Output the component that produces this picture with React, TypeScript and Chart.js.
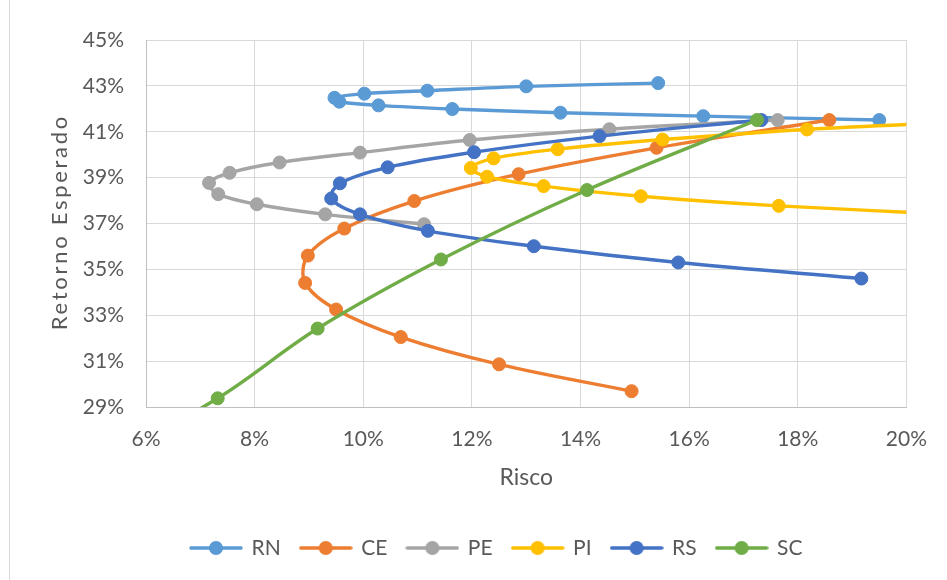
import React, { useEffect, useRef } from 'react';
import { Chart, registerables } from 'chart.js';

Chart.register(...registerables);

// ---- data (risk %, expected return %) ----
const seriesNames = ['RN', 'CE', 'PE', 'PI', 'RS', 'SC'];
const seriesColors = ['#5B9BD5', '#ED7D31', '#A5A5A5', '#FFC000', '#4472C4', '#70AD47'];

const rnRisk = [19.5, 16.26, 13.63, 11.64, 10.28, 9.56, 9.47, 10.02, 11.18, 13.0, 15.43];
const rnReturn = [41.51, 41.68, 41.83, 41.99, 42.15, 42.31, 42.48, 42.66, 42.79, 42.98, 43.12];

const ceRisk = [14.94, 12.5, 10.69, 9.5, 8.93, 8.98, 9.65, 10.94, 12.86, 15.4, 18.58];
const ceReturn = [29.69, 30.86, 32.05, 33.25, 34.41, 35.6, 36.78, 37.98, 39.15, 40.3, 41.51];

const peRisk = [11.12, 9.3, 8.04, 7.33, 7.16, 7.54, 8.46, 9.94, 11.96, 14.53, 17.63];
const peReturn = [36.97, 37.4, 37.84, 38.28, 38.77, 39.21, 39.66, 40.09, 40.64, 41.11, 41.51];

const piRisk = [21.3, 17.65, 15.11, 13.32, 12.28, 11.98, 12.4, 13.58, 15.51, 18.17, 22.0];
const piReturn = [37.35, 37.77, 38.19, 38.63, 39.04, 39.42, 39.84, 40.24, 40.66, 41.1, 41.52];

const rsRisk = [19.17, 15.8, 13.14, 11.19, 9.94, 9.41, 9.57, 10.45, 12.04, 14.35, 17.33];
const rsReturn = [34.6, 35.3, 36.01, 36.68, 37.4, 38.09, 38.75, 39.45, 40.11, 40.81, 41.51];

const scRisk = [5.0, 7.32, 9.16, 11.43, 14.12, 17.25];
const scReturn = [26.35, 29.38, 32.42, 35.43, 38.46, 41.51];

const xTickValues = [6, 8, 10, 12, 14, 16, 18, 20];
const yTickValues = [29, 31, 33, 35, 37, 39, 41, 43, 45];

const xTitle = 'Risco';
const yTitle = 'Retorno Esperado';

const riskLists = [rnRisk, ceRisk, peRisk, piRisk, rsRisk, scRisk];
const returnLists = [rnReturn, ceReturn, peReturn, piReturn, rsReturn, scReturn];

const TEXT = '#595959';
const FONT = 'Lato, "Open Sans", sans-serif';

function makeLegendImage(color: string): HTMLCanvasElement {
  const c = document.createElement('canvas');
  c.width = 54;
  c.height = 16;
  const g = c.getContext('2d')!;
  g.strokeStyle = color;
  g.lineWidth = 3.5;
  g.lineCap = 'round';
  g.beginPath();
  g.moveTo(2, 8);
  g.lineTo(52, 8);
  g.stroke();
  g.fillStyle = color;
  g.beginPath();
  g.arc(27, 8, 7, 0, Math.PI * 2);
  g.fill();
  return c;
}

export default function App() {
  const ref = useRef<HTMLCanvasElement | null>(null);

  useEffect(() => {
    if (!ref.current) return;
    const legendImgs = seriesColors.map(makeLegendImage);

    const datasets = seriesNames.map((name, i) => ({
      label: name,
      data: riskLists[i].map((x, k) => ({ x, y: returnLists[i][k] })),
      showLine: true,
      borderColor: seriesColors[i],
      backgroundColor: seriesColors[i],
      pointBackgroundColor: seriesColors[i],
      pointBorderColor: seriesColors[i],
      pointBorderWidth: 1,
      pointRadius: 6.5,
      borderWidth: 3.4,
      tension: 0.35,
      clip: 0,
      order: seriesNames.length - i,
    }));

    const decorPlugin = {
      id: 'decor',
      beforeDraw(chart: any) {
        const ctx = chart.ctx;
        ctx.save();
        ctx.fillStyle = '#ffffff';
        ctx.fillRect(0, 0, chart.width, chart.height);
        ctx.strokeStyle = '#d9d9d9';
        ctx.lineWidth = 1;
        ctx.beginPath();
        ctx.moveTo(9.5, 0);
        ctx.lineTo(9.5, chart.height);
        ctx.stroke();
        ctx.restore();
      },
      afterDraw(chart: any) {
        const ctx = chart.ctx;
        const area = chart.chartArea;
        ctx.save();
        ctx.translate(60, (area.top + area.bottom) / 2);
        ctx.rotate(-Math.PI / 2);
        ctx.font = `22px ${FONT}`;
        try {
          (ctx as any).letterSpacing = '2.7px';
        } catch (e) {}
        ctx.fillStyle = TEXT;
        ctx.textAlign = 'center';
        ctx.textBaseline = 'middle';
        ctx.fillText(yTitle, 1.3, 0);
        ctx.restore();
      },
      afterLayout(chart: any) {
        const l = chart.legend;
        if (l) {
          l.left += 171;
          l.right += 171;
        }
      },
    };

    const chart = new Chart(ref.current, {
      type: 'scatter',
      data: { datasets },
      plugins: [decorPlugin],
      options: {
        animation: false,
        responsive: false,
        layout: { padding: { left: 0, right: 38, top: 40, bottom: 11.5 } },
        elements: { line: { capBezierPoints: false } },
        scales: {
          x: {
            type: 'linear',
            min: xTickValues[0],
            max: xTickValues[xTickValues.length - 1],
            afterBuildTicks: (s: any) => {
              s.ticks = xTickValues.map((v) => ({ value: v }));
            },
            afterFit: (s: any) => {
              s.height = 110.5;
            },
            grid: { color: '#d9d9d9', lineWidth: 1, drawTicks: false },
            border: { color: '#bfbfbf', width: 1 },
            ticks: {
              color: TEXT,
              font: { family: FONT, size: 21 },
              padding: 20,
              maxRotation: 0,
              callback: (v: any) => `${v}%`,
            },
            title: {
              display: true,
              text: xTitle,
              color: TEXT,
              font: { family: FONT, size: 23 },
              padding: { top: 0, bottom: 25.7 },
            },
          },
          y: {
            type: 'linear',
            min: yTickValues[0],
            max: yTickValues[yTickValues.length - 1],
            afterBuildTicks: (s: any) => {
              s.ticks = yTickValues.map((v) => ({ value: v }));
            },
            afterFit: (s: any) => {
              s.width = 146;
            },
            grid: { color: '#d9d9d9', lineWidth: 1, drawTicks: false },
            border: { color: '#bfbfbf', width: 1 },
            ticks: {
              color: TEXT,
              font: { family: FONT, size: 21 },
              padding: 22,
              callback: (v: any) => `${v}%`,
            },
            title: { display: false },
          },
        },
        plugins: {
          tooltip: { enabled: false },
          legend: {
            display: true,
            position: 'bottom',
            align: 'start',
            labels: {
              usePointStyle: true,
              pointStyleWidth: 50,
              padding: 20,
              color: TEXT,
              font: { family: FONT, size: 21 },
              generateLabels: (ch: any) =>
                ch.data.datasets.map((ds: any, i: number) => ({
                  text: ds.label,
                  pointStyle: legendImgs[i],
                  fillStyle: seriesColors[i],
                  strokeStyle: seriesColors[i],
                  lineWidth: 0,
                  hidden: false,
                  datasetIndex: i,
                  fontColor: TEXT,
                })),
            },
          },
        },
      } as any,
    });
    return () => chart.destroy();
  }, []);

  return (
    <div style={{ position: 'absolute', left: 0, top: 0, width: 947, height: 580, background: '#fff' }}>
      <canvas ref={ref} width={947} height={580} style={{ display: 'block', width: 947, height: 580 }} />
    </div>
  );
}
